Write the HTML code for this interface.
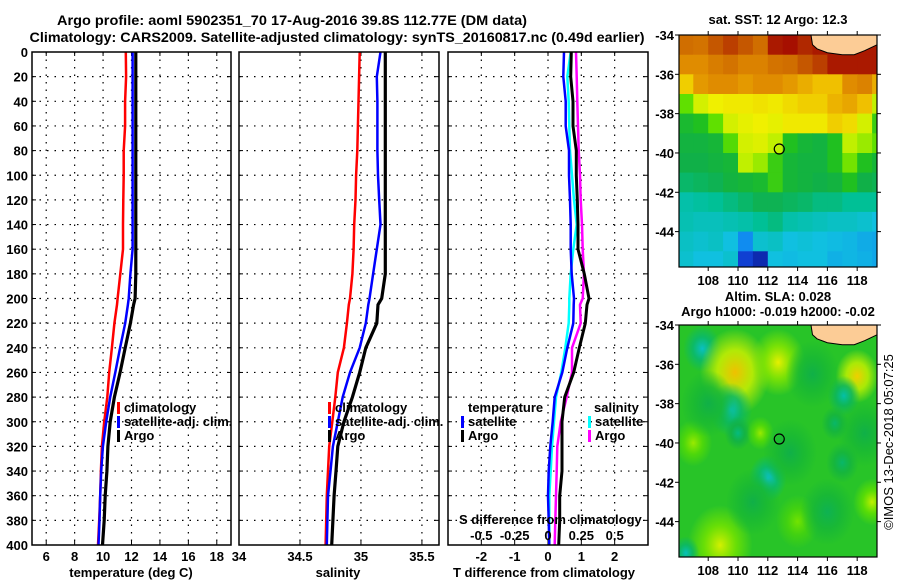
<!DOCTYPE html>
<html><head><meta charset="utf-8"><style>
html,body{margin:0;padding:0;background:#fff;}
svg{display:block;font-family:"Liberation Sans",sans-serif;font-weight:bold;}
</style></head><body>
<svg id="c" width="900" height="580" viewBox="0 0 900 580" xmlns="http://www.w3.org/2000/svg">
<text x="292" y="25" text-anchor="middle" font-size="14" textLength="470" lengthAdjust="spacingAndGlyphs">Argo profile: aoml 5902351_70 17-Aug-2016 39.8S 112.77E (DM data)</text>
<text x="337" y="42" text-anchor="middle" font-size="14" textLength="615" lengthAdjust="spacingAndGlyphs">Climatology: CARS2009. Satellite-adjusted climatology: synTS_20160817.nc (0.49d earlier)</text>
<text x="778" y="24" text-anchor="middle" font-size="13">sat. SST: 12 Argo: 12.3</text>
<text x="778" y="301" text-anchor="middle" font-size="13">Altim. SLA: 0.028</text>
<text x="778" y="316" text-anchor="middle" font-size="13">Argo h1000: -0.019 h2000: -0.02</text>
<text transform="translate(893,442) rotate(-90)" text-anchor="middle" font-size="13" font-weight="normal">©IMOS 13-Dec-2018 05:07:25</text>
</svg>
<script>
const depth=[0,20,40,60,80,100,120,140,160,180,200,205,220,240,260,280,300,320,340,360,380,400];
const tClim=[11.6,11.62,11.55,11.55,11.45,11.45,11.42,11.4,11.4,11.21,11.02,10.98,10.8,10.62,10.43,10.3,10.08,9.92,9.85,9.8,9.73,9.64];
const tSat=[12.08,12.08,12.08,12.08,12.08,12.08,12.08,12.08,12.08,11.92,11.8,11.75,11.56,11.2,10.86,10.5,10.22,9.99,9.87,9.8,9.75,9.68];
const tArgo=[12.3,12.3,12.3,12.3,12.3,12.3,12.3,12.3,12.3,12.3,12.25,12.15,11.92,11.56,11.2,10.8,10.5,10.34,10.27,10.15,10.08,9.96];
const sClim=[34.99,34.985,34.98,34.975,34.97,34.96,34.955,34.945,34.94,34.93,34.91,34.9,34.885,34.86,34.81,34.79,34.765,34.74,34.73,34.72,34.715,34.71];
const sSat=[35.16,35.13,35.135,35.135,35.135,35.14,35.15,35.16,35.13,35.1,35.07,35.06,35.04,34.99,34.91,34.85,34.81,34.77,34.75,34.73,34.725,34.72];
const sArgo=[35.2,35.2,35.2,35.2,35.2,35.2,35.2,35.2,35.2,35.2,35.17,35.14,35.13,35.04,34.99,34.93,34.86,34.81,34.795,34.78,34.77,34.76];
const depthTicks=[0,20,40,60,80,100,120,140,160,180,200,220,240,260,280,300,320,340,360,380,400];
const tTicks=[6,8,10,12,14,16,18];
const sTicks=[34,34.5,35,35.5];
const dTicks=[-2,-1,0,1,2];
const sdTickLabels=["-0.5","-0.25","0","0.25","0.5"];
const sdTicks=[-0.5,-0.25,0,0.25,0.5];
const lonTicks=[108,110,112,114,116,118];
const latTicks=[-34,-36,-38,-40,-42,-44];
const sst=[
[.86,.85,.88,.9,.88,.86,.95,.97,.92,.95,.95,.95,.95,.95],
[.8,.8,.83,.85,.82,.82,.85,.86,.88,.9,.95,.95,.95,.95],
[.7,.78,.8,.8,.78,.8,.8,.78,.75,.72,.72,.8,.82,.75],
[.55,.62,.65,.66,.66,.67,.66,.68,.7,.7,.74,.76,.72,.6],
[.48,.5,.55,.62,.64,.65,.64,.66,.66,.66,.7,.68,.62,.52],
[.46,.46,.47,.54,.62,.63,.6,.5,.47,.46,.5,.6,.58,.55],
[.45,.45,.46,.47,.6,.58,.52,.47,.46,.46,.5,.56,.5,.47],
[.42,.43,.44,.46,.47,.48,.52,.47,.46,.45,.46,.5,.45,.44],
[.36,.37,.38,.4,.42,.44,.44,.43,.42,.4,.4,.38,.38,.38],
[.35,.34,.34,.35,.36,.38,.4,.36,.35,.34,.33,.33,.32,.3],
[.33,.32,.33,.3,.2,.32,.33,.3,.31,.3,.29,.28,.26,.25],
[.32,.3,.3,.32,.1,.05,.3,.29,.3,.3,.27,.28,.27,.25]];
const blobLon=[107.6,109.8,112.7,118,117.1,109.5,110,112,107,111.5,108.8,119,106.5,116.5,114,117,108,113.5,115,118.5,111,116];
const blobLat=[-35.2,-36.4,-35.9,-36.6,-37.6,-38.3,-39.5,-41.8,-40,-39.5,-45.2,-43,-45.6,-39,-44,-41,-38,-40.5,-36.5,-39.5,-43,-43.5];
const blobVal=[.33,.72,.64,.7,.36,.34,.4,.32,.58,.58,.62,.6,.34,.42,.56,.42,.45,.45,.45,.45,.45,.44];
const blobRad=[.7,1.3,1.0,.8,.6,.8,.5,.7,.7,.5,1.2,.7,.5,.5,.8,.6,1.0,1.0,1.0,1.0,1.0,1.0];
const coastLon=[114.9,115.0,115.3,116,117,117.8,118.5,119.33];
const coastLat=[-34,-34.5,-34.7,-34.9,-35.0,-35.0,-34.8,-34.5];
const argoLon=112.77, argoLat=-39.8;

const svg=document.getElementById('c');
const NS='http://www.w3.org/2000/svg';
function el(tag,attrs,parent){const e=document.createElementNS(NS,tag);for(const k in attrs)e.setAttribute(k,attrs[k]);(parent||svg).appendChild(e);return e;}
const Y0=52,Y1=545;
const yD=d=>Y0+(d/400)*(Y1-Y0);
function lin(d0,d1,r0,r1){return v=>r0+(v-d0)/(d1-d0)*(r1-r0);}
const xT=lin(5,19,32,231), xS=lin(34,35.64,239,439), xD=lin(-3,3,448,648), xSD=v=>xD(v*4);

function panel(name,x0,x1,ticks,xf,labels){
  const g=el('g',{});
  
  
  el('rect',{x:x0,y:Y0,width:x1-x0,height:Y1-Y0,fill:'#fff',stroke:'none'},g);
  depthTicks.forEach(d=>{const y=yD(d);if(d>0&&d<400){const l=el('line',{x1:x0,x2:x1,y1:y,y2:y,stroke:'#000','stroke-width':1.2,'stroke-dasharray':'1.5 6'},g);}
    el('line',{x1:x0,x2:x0+4,y1:y,y2:y,stroke:'#000'},g);el('line',{x1:x1-4,x2:x1,y1:y,y2:y,stroke:'#000'},g);});
  ticks.forEach((t,i)=>{const x=xf(t);if(x>x0+1&&x<x1-1){const l=el('line',{x1:x,x2:x,y1:Y0,y2:Y1,stroke:'#000','stroke-width':1.2,'stroke-dasharray':'1.5 6'},g);
    el('line',{x1:x,x2:x,y1:Y1-4,y2:Y1,stroke:'#000'},g);el('line',{x1:x,x2:x,y1:Y0,y2:Y0+4,stroke:'#000'},g);}
    const tx=el('text',{x:x,y:561,'text-anchor':'middle','font-size':13},g);tx.textContent=labels?labels[i]:String(t);
    });
  return g;
}
function line(g,xs,xf,color,w,name){
  const pts=depth.map((d,i)=>xf(xs[i]).toFixed(1)+','+yD(d).toFixed(1)).join(' ');
  const p=el('polyline',{points:pts,fill:'none',stroke:color,'stroke-width':w},g);
  
  
}
function frame(g,x0,x1){el('rect',{x:x0,y:Y0,width:x1-x0,height:Y1-Y0,fill:'none',stroke:'#000','stroke-width':1.5},g);}
function txt(g,x,y,s,name,anchor,size){const t=el('text',{x:x,y:y,'text-anchor':anchor||'start','font-size':size||13},g);t.textContent=s;return t;}
function mark(g,x,y,c,name){const r=el('rect',{x:x,y:y-10,width:3,height:12,fill:c},g);}

let g1=panel('temperature-panel',32,231,tTicks,xT);
depthTicks.forEach(d=>{txt(svg,28,yD(d)+5,String(d),'depth-tick-label','end');});
line(g1,tClim,xT,'#f00',2.5,'climatology-temperature-line');
line(g1,tSat,xT,'#00f',2.5,'satellite-temperature-line');
line(g1,tArgo,xT,'#000',3.2,'argo-temperature-line');
mark(g1,117,412,'#f00','legend-climatology-marker');txt(g1,124,412,'climatology','legend-climatology');
mark(g1,117,426,'#00f','legend-satellite-marker');txt(g1,124,426,'satellite-adj. clim.','legend-satellite');
mark(g1,117,440,'#000','legend-argo-marker');txt(g1,124,440,'Argo','legend-argo');
frame(g1,32,231);
txt(svg,131,577,'temperature (deg C)','x-axis-title-temperature','middle');

let g2=panel('salinity-panel',239,439,sTicks,xS);
line(g2,sClim,xS,'#f00',2.5,'climatology-salinity-line');
line(g2,sSat,xS,'#00f',2.5,'satellite-salinity-line');
line(g2,sArgo,xS,'#000',3.2,'argo-salinity-line');
mark(g2,328,412,'#f00','legend-climatology-marker');txt(g2,335,412,'climatology','legend-climatology');
mark(g2,328,426,'#00f','legend-satellite-marker');txt(g2,335,426,'satellite-adj. clim.','legend-satellite');
mark(g2,328,440,'#000','legend-argo-marker');txt(g2,335,440,'Argo','legend-argo');
frame(g2,239,439);
txt(svg,338,577,'salinity','x-axis-title-salinity','middle');

let g3=panel('difference-panel',448,648,dTicks,xD);
const dTs=tSat.map((v,i)=>v-tClim[i]), dTa=tArgo.map((v,i)=>v-tClim[i]);
const dSs=sSat.map((v,i)=>v-sClim[i]), dSa=sArgo.map((v,i)=>v-sClim[i]);
line(g3,dSs,xSD,'#0ff',2.5,'salinity-satellite-diff-line');
line(g3,dTs,xD,'#00f',2.5,'temperature-satellite-diff-line');
line(g3,dSa,xSD,'#f0f',2.5,'salinity-argo-diff-line');
line(g3,dTa,xD,'#000',3,'temperature-argo-diff-line');
txt(g3,468,412,'temperature','legend-temperature-heading');
mark(g3,461,426,'#00f','legend-t-satellite-marker');txt(g3,468,426,'satellite','legend-t-satellite');
mark(g3,461,440,'#000','legend-t-argo-marker');txt(g3,468,440,'Argo','legend-t-argo');
txt(g3,594,412,'salinity','legend-salinity-heading');
mark(g3,588,426,'#0ff','legend-s-satellite-marker');txt(g3,595,426,'satellite','legend-s-satellite');
mark(g3,588,440,'#f0f','legend-s-argo-marker');txt(g3,595,440,'Argo','legend-s-argo');
txt(g3,459,524,'S difference from climatology','s-axis-title');
sdTicks.forEach((t,i)=>txt(g3,xSD(t),540,sdTickLabels[i],'s-tick-label','middle'));
frame(g3,448,648);
txt(svg,544,577,'T difference from climatology','x-axis-title-difference','middle');

const cStops=[[0,[10,20,140]],[.1,[16,64,210]],[.2,[16,140,240]],[.3,[16,192,224]],[.38,[0,192,150]],[.45,[16,176,72]],[.5,[32,192,32]],[.55,[96,224,0]],[.6,[192,240,0]],[.65,[240,240,0]],[.72,[240,192,0]],[.8,[224,140,0]],[.86,[208,110,0]],[.92,[176,40,0]],[1,[160,0,0]]];
function cmap(v){for(let i=1;i<cStops.length;i++){if(v<=cStops[i][0]){const a=cStops[i-1],b=cStops[i],f=(v-a[0])/(b[0]-a[0]);return 'rgb('+a[1].map((c,k)=>Math.round(c+(b[1][k]-c)*f)).join(',')+')';}}return 'rgb(160,0,0)';}

const MX0=679,MX1=877,LON0=106.04,LON1=119.33,LAT0=-34,LAT1=-45.8;
const mx=lin(LON0,LON1,MX0,MX1);
function mapAxes(g,y0,y1){
  const my=lin(LAT0,LAT1,y0,y1);
  latTicks.forEach(l=>{const y=my(l);el('line',{x1:MX0,x2:MX0-4,y1:y,y2:y,stroke:'#000'},g);el('line',{x1:MX1,x2:MX1+4,y1:y,y2:y,stroke:'#000'},g);txt(g,674,y+5,String(l),'lat-tick-label','end');});
  lonTicks.forEach(l=>{const x=mx(l);el('line',{x1:x,x2:x,y1:y1,y2:y1+4,stroke:'#000'},g);el('line',{x1:x,x2:x,y1:y0,y2:y0-4,stroke:'#000'},g);txt(g,x,y1+18,String(l),'lon-tick-label','middle');});
  const cl=coastLon.map((v,i)=>mx(v).toFixed(1)+','+my(coastLat[i]).toFixed(1)).join(' ');
  const land=el('polygon',{points:cl+' '+MX1+','+y0,fill:'#fccc96',stroke:'#000','stroke-width':1},g);
  
  const c=el('circle',{cx:mx(argoLon),cy:my(argoLat),r:5,fill:'none',stroke:'#000','stroke-width':1.2},g);
  
  el('rect',{x:MX0,y:y0,width:MX1-MX0,height:y1-y0,fill:'none',stroke:'#000','stroke-width':1.2},g);
  return my;
}
const gm1=el('g',{});


{const y0=35,y1=267,my=lin(LAT0,LAT1,y0,y1);
 const cp=el('clipPath',{id:'cp1'},gm1);el('rect',{x:MX0,y:y0,width:MX1-MX0,height:y1-y0},cp);
 const cg=el('g',{'clip-path':'url(#cp1)'},gm1);
 sst.forEach((row,r)=>row.forEach((v,c)=>{const x=mx(106+c),y=my(-34-r);const rc=el('rect',{x:x.toFixed(1),y:y.toFixed(1),width:(mx(107)-mx(106)+0.6).toFixed(1),height:(my(-35)-my(-34)+0.6).toFixed(1),fill:cmap(v)},cg);
 
 }));
 mapAxes(gm1,y0,y1);}
const gm2=el('g',{});


{const y0=325,y1=557,my=lin(LAT0,LAT1,y0,y1);
 const cp=el('clipPath',{id:'cp2'},gm2);el('rect',{x:MX0,y:y0,width:MX1-MX0,height:y1-y0},cp);
 const cg=el('g',{'clip-path':'url(#cp2)'},gm2);
 el('rect',{x:MX0,y:y0,width:MX1-MX0,height:y1-y0,fill:'rgb(40,196,40)'},cg);
 const defs=el('defs',{},gm2);
 blobVal.forEach((v,i)=>{const gr=el('radialGradient',{id:'bl'+i},defs);
   el('stop',{offset:'0','stop-color':cmap(v),'stop-opacity':1},gr);
   el('stop',{offset:'0.5','stop-color':cmap((v+0.5)/2),'stop-opacity':0.85},gr);
   el('stop',{offset:'1','stop-color':cmap((v+0.5)/2),'stop-opacity':0},gr);
   const e=el('ellipse',{cx:mx(blobLon[i]),cy:my(blobLat[i]),rx:blobRad[i]*15*1.8,ry:blobRad[i]*19.7*1.7,fill:'url(#bl'+i+')'},cg);
   
   });
 mapAxes(gm2,y0,y1);}
</script>
</body></html>
